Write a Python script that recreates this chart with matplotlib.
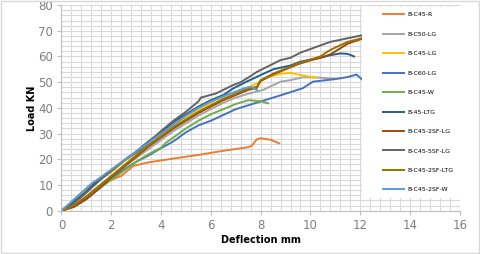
import matplotlib
matplotlib.use('Agg')
import matplotlib.pyplot as plt
from matplotlib.patches import Rectangle
from matplotlib.ticker import MultipleLocator

# load-deflection curves (deflection mm, load kN)
r_x = [0, 0.5, 1, 1.5, 2, 2.4, 2.9, 3.5, 4.5, 5.5, 6.5, 7.5, 7.65, 7.85, 8.0, 8.4, 8.75]
r_y = [0, 2.5, 5.5, 9.5, 12, 13.5, 17.5, 18.8, 20.3, 21.7, 23.3, 24.7, 25.3, 27.8, 28.2, 27.6, 26.2]

c50_x = [0, 0.5, 1, 1.5, 2, 2.5, 3, 3.5, 4, 4.5, 5, 5.5, 6, 6.5, 7, 7.5, 8.1, 8.8, 9.2, 9.7, 10.3, 11]
c50_y = [0, 2.5, 5.5, 9.5, 13.5, 17, 20.5, 24, 27.5, 31, 34, 37, 39.5, 42, 44, 45.5, 47, 50.2, 50.8, 51.9, 51.8, 51.3]

c45lg_x = [0, 0.4, 0.8, 1.2, 1.5, 2, 2.5, 3, 3.5, 4, 4.5, 5, 5.5, 6, 6.5, 7, 7.5, 7.85, 8.3, 8.8, 9.2, 9.6, 10.25]
c45lg_y = [0, 3, 7, 9.5, 12, 15, 19, 22.5, 26, 29.5, 33, 36.5, 39.5, 42, 44.5, 46.3, 48, 49.5, 52, 53.3, 53.6, 52.8, 51.7]

c60_x = [0, 0.5, 1, 1.5, 2, 2.5, 3, 3.5, 4, 4.5, 5, 5.5, 6, 7, 8, 9, 9.7, 10.1, 11, 11.5, 11.85, 12.1]
c60_y = [0, 1.5, 4.5, 8.5, 12.5, 16, 19, 21.5, 24.3, 27, 30.5, 33.2, 35, 39.5, 42.5, 45.5, 47.7, 50.2, 51.2, 52, 53, 50.8]

w_x = [0, 0.5, 1, 1.5, 2, 2.5, 3, 3.5, 4, 4.2, 4.5, 5, 5.5, 6, 7, 7.5, 8, 8.3]
w_y = [0, 2, 5, 8.5, 12, 15.5, 19, 22, 24.5, 26.5, 28.5, 32, 35, 37.5, 41.5, 43, 42.6, 41.8]

ltg_x = [0, 0.5, 1, 1.3, 1.5, 2, 2.5, 3, 3.5, 4, 4.5, 5, 5.5, 6, 6.5, 6.9, 7.5, 7.85, 8.5, 9.2, 9.6, 10.4, 10.8, 11.2, 11.5, 11.75]
ltg_y = [0, 3.5, 7.5, 10.5, 12, 15.5, 19.5, 23, 27, 30.5, 34.5, 37.5, 40.5, 43, 45, 47.6, 50.5, 52.1, 55, 56.5, 58, 59.5, 60.5, 61.2, 61, 60]

sf2lg_x = [0, 0.5, 1, 1.5, 2, 2.5, 3, 3.5, 4, 4.5, 5, 5.5, 6, 6.5, 7, 7.5, 7.85, 8, 8.5, 9, 9.5, 10, 10.4, 10.8, 11, 11.5, 12.1]
sf2lg_y = [0, 1.5, 4.5, 8.5, 13, 17, 21, 25, 28.5, 32, 35, 38, 40.5, 43, 45, 47, 47.8, 50.5, 53, 55, 57, 58.5, 59.5, 60.8, 62, 65, 67]

sf5lg_x = [0, 0.5, 1, 1.5, 2, 2.5, 3.15, 4, 4.5, 5, 5.5, 5.6, 6.2, 6.9, 7.2, 7.6, 7.85, 8.8, 9.2, 9.6, 10.8, 12.1]
sf5lg_y = [0, 3, 7, 11.5, 15.5, 19.5, 23.6, 31, 35, 38.5, 42.5, 44, 45.6, 48.9, 50, 52.4, 54, 58.6, 59.5, 61.5, 65.7, 68.3]

sf2ltg_x = [0, 0.5, 1, 1.5, 2, 2.5, 3, 3.5, 4, 4.5, 5, 5.5, 6, 6.5, 7, 7.5, 7.85, 8, 8.5, 9, 9.5, 10, 10.4, 10.7, 11, 11.5, 12.1]
sf2ltg_y = [0, 2, 5.5, 9.5, 13.5, 17.5, 21.5, 25.5, 29, 32.5, 35.5, 38.5, 41, 43.5, 45.5, 47.5, 48.2, 50.8, 53.3, 55.3, 57.3, 58.8, 60, 62, 63.5, 65.7, 67.2]

sf2w_x = [0, 0.4, 0.8, 1.2, 1.5, 2, 2.5, 3, 3.5, 4, 4.5, 5, 5.5, 6, 6.5, 7, 7.3, 7.6, 7.85]
sf2w_y = [0, 3.5, 7, 10.5, 12.5, 16, 19.5, 23, 26.5, 30, 33.5, 37, 40, 42.5, 44.5, 46.3, 47.5, 48.2, 47]

series = [
    ('B-C45-R', r_x, r_y, '#ED7D31'),
    ('B-C50-LG', c50_x, c50_y, '#A5A5A5'),
    ('B-C45-LG', c45lg_x, c45lg_y, '#FFC000'),
    ('B-C60-LG', c60_x, c60_y, '#4472C4'),
    ('B-C45-W', w_x, w_y, '#70AD47'),
    ('B-45-LTG', ltg_x, ltg_y, '#255E91'),
    ('B-C45-2SF-LG', sf2lg_x, sf2lg_y, '#9E480E'),
    ('B-C45-5SF-LG', sf5lg_x, sf5lg_y, '#636363'),
    ('B-C45-2SF-LTG', sf2ltg_x, sf2ltg_y, '#997300'),
    ('B-C45-2SF-W', sf2w_x, sf2w_y, '#5B9BD5'),
]

fig = plt.figure(figsize=(4.8, 2.54), dpi=100)
ax = fig.add_axes([0.128, 0.1705, 0.83, 0.8095])

for name, xs, ys, col in series:
    ax.plot(xs, ys, color=col, lw=1.4, label=name)

ax.set_xlim(0, 16)
ax.set_ylim(0, 80)
ax.xaxis.set_major_locator(MultipleLocator(2))
ax.xaxis.set_minor_locator(MultipleLocator(0.4))
ax.yaxis.set_major_locator(MultipleLocator(10))
ax.yaxis.set_minor_locator(MultipleLocator(2))
ax.grid(which='both', color='#d9d9d9', lw=0.8)
ax.set_axisbelow(True)
for s in ['top', 'right']:
    ax.spines[s].set_visible(False)
for s in ['left', 'bottom']:
    ax.spines[s].set_color('#bfbfbf')
ax.tick_params(which='major', length=3, color='#bfbfbf', labelsize=8.5,
               labelcolor='#7f7f7f', pad=3)
ax.tick_params(which='minor', length=0)
ax.set_xlabel('Deflection mm', fontsize=7, fontweight='bold', labelpad=2)
ax.set_ylabel('Load KN', fontsize=7, fontweight='bold', labelpad=1)

# white legend area covering the right side of the plot
fig.patches.append(Rectangle((362 / 480, 1 - 198 / 254), 116 / 480, 191 / 254,
                             transform=fig.transFigure, facecolor='white',
                             edgecolor='none', zorder=2))
handles, labels = ax.get_legend_handles_labels()
leg = fig.legend(handles, labels, loc='upper left',
                 bbox_to_anchor=(380 / 480, 1 - 9 / 254), frameon=False,
                 fontsize=4.5, labelspacing=2.25, handlelength=3.4,
                 handletextpad=0.5, borderpad=0)
leg.set_zorder(3)

fig.patches.append(Rectangle((0.002, 0.004), 0.996, 0.992, transform=fig.transFigure,
                             facecolor='none', edgecolor='#d9d9d9', lw=1, zorder=4))

plt.savefig('out.png', dpi=100)
